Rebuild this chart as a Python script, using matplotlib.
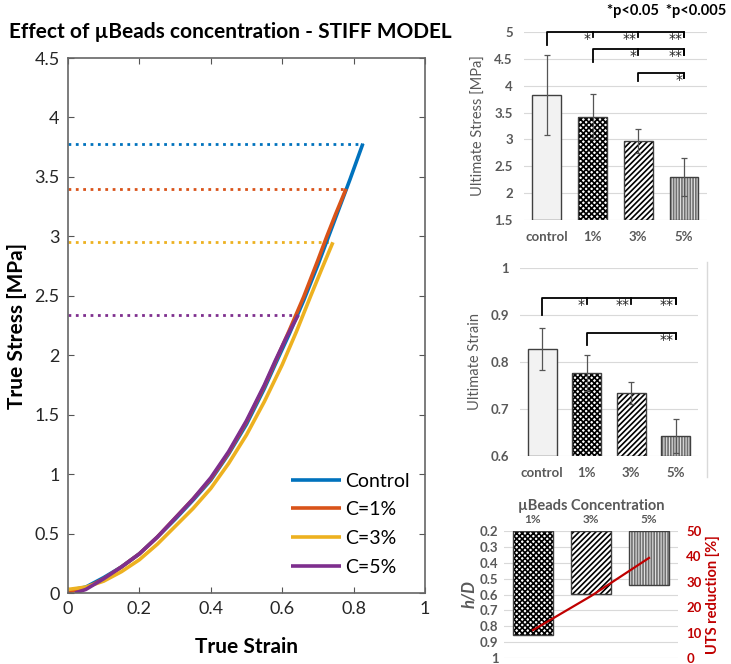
import numpy as np
import matplotlib
matplotlib.use('Agg')
import matplotlib.pyplot as plt
from matplotlib.lines import Line2D

plt.rcParams['font.family'] = ['Lato', 'DejaVu Sans']
plt.rcParams['hatch.linewidth'] = 1.2

# ---- stress-strain curves ----
strain_ctrl = [0.0, 0.05, 0.1, 0.15, 0.2, 0.25, 0.3, 0.35, 0.4, 0.45, 0.5, 0.55,
               0.58, 0.62, 0.66, 0.7, 0.73, 0.76, 0.79, 0.826]
stress_ctrl = [0.02, 0.05, 0.13, 0.22, 0.33, 0.47, 0.62, 0.78, 0.95, 1.17, 1.42, 1.72,
               1.92, 2.18, 2.46, 2.76, 3.0, 3.24, 3.48, 3.78]
strain_c1 = [0.0, 0.05, 0.1, 0.15, 0.2, 0.25, 0.3, 0.35, 0.4, 0.45, 0.5, 0.55,
             0.58, 0.62, 0.66, 0.7, 0.725, 0.75, 0.779]
stress_c1 = [0.01, 0.04, 0.12, 0.22, 0.33, 0.47, 0.63, 0.79, 0.96, 1.18, 1.44, 1.74,
             1.94, 2.21, 2.49, 2.80, 3.0, 3.19, 3.40]
strain_c3 = [0.0, 0.05, 0.1, 0.15, 0.2, 0.25, 0.3, 0.35, 0.4, 0.45, 0.5, 0.55,
             0.6, 0.64, 0.68, 0.71, 0.742]
stress_c3 = [0.03, 0.05, 0.10, 0.18, 0.28, 0.41, 0.56, 0.71, 0.88, 1.09, 1.33, 1.61,
             1.92, 2.2, 2.5, 2.72, 2.95]
strain_c5 = [0.02, 0.05, 0.1, 0.15, 0.2, 0.25, 0.3, 0.35, 0.4, 0.45, 0.5, 0.55,
             0.58, 0.61, 0.645]
stress_c5 = [0.0, 0.03, 0.12, 0.22, 0.33, 0.47, 0.63, 0.79, 0.97, 1.19, 1.45, 1.75,
             1.95, 2.14, 2.34]
curve_labels = ['Control', 'C=1%', 'C=3%', 'C=5%']
curve_colors = ['#0072BD', '#D95319', '#EDB120', '#7E2F8E']

# ---- bar panels ----
groups = ['control', '1%', '3%', '5%']
uts_mean = [3.83, 3.42, 2.97, 2.30]
uts_err = [0.74, 0.42, 0.22, 0.35]
strain_mean = [0.827, 0.777, 0.734, 0.643]
strain_err = [0.045, 0.038, 0.024, 0.036]

conc = ['1%', '3%', '5%']
h_over_d = [0.855, 0.597, 0.54]
uts_reduction = [11.0, 24.4, 39.4]

fig = plt.figure(figsize=(7.31, 6.64), dpi=100)

# ================= main stress-strain plot =================
ax = fig.add_axes([0.0930, 0.1069, 0.4884, 0.8057])
curves = [(strain_ctrl, stress_ctrl), (strain_c1, stress_c1),
          (strain_c3, stress_c3), (strain_c5, stress_c5)]
for (x, y), lab, c in zip(curves, curve_labels, curve_colors):
    ax.plot([0, x[-1]], [y[-1], y[-1]], ':', color=c, lw=2)
for (x, y), lab, c in zip(curves, curve_labels, curve_colors):
    ax.plot(x, y, '-', color=c, lw=2.6, label=lab, solid_capstyle='butt',
            solid_joinstyle='round')

ax.set_xlim(0, 1)
ax.set_ylim(0, 4.5)
ax.set_xticks([0, 0.2, 0.4, 0.6, 0.8, 1])
ax.set_xticklabels(['0', '0.2', '0.4', '0.6', '0.8', '1'])
ax.set_yticks(np.arange(0, 4.51, 0.5))
ax.set_yticklabels(['0', '0.5', '1', '1.5', '2', '2.5', '3', '3.5', '4', '4.5'])
ax.tick_params(direction='in', top=True, right=True, length=4, labelsize=13,
               colors='#555555', labelcolor='#262626', pad=6)
for s in ax.spines.values():
    s.set_color('#666666')
    s.set_linewidth(1.2)
ax.set_xlabel('True Strain', fontsize=15, fontweight='bold', labelpad=14)
ax.set_ylabel('True Stress [MPa]', fontsize=15, fontweight='bold', labelpad=5)
ax.legend(loc='lower left', bbox_to_anchor=(0.575, 0.0), frameon=False,
          fontsize=14, handlelength=2.6, labelspacing=0.6, handletextpad=0.2)
fig.text(0.012, 0.952, 'Effect of \u00b5Beads concentration - STIFF MODEL',
         fontsize=15, fontweight='bold', va='center', ha='left')

# ================= helpers for Excel-style bar panels =================
gray_txt = '#595959'
styles = [dict(fc='#f2f2f2', hatch=None, hc='#f2f2f2'),
          dict(fc='white', hatch='xxxxxx', hc='black'),
          dict(fc='white', hatch='//////', hc='black'),
          dict(fc='#e0e0e0', hatch='||||||', hc='#707070')]


def draw_bars(a, xs, heights, bottom, width, sty):
    for x, h, st in zip(xs, heights, sty):
        a.bar(x, h, width, bottom=bottom, color=st['fc'], edgecolor=st['hc'],
              hatch=st['hatch'], linewidth=0, zorder=2)
        a.bar(x, h, width, bottom=bottom, fill=False, edgecolor='#404040',
              linewidth=1.0, zorder=3)


def bracket(a, x0, x1, y, leg, ticks, stars, tl):
    a.plot([x0, x0, x1, x1], [leg, y, y, y - tl], color='black', lw=1.3,
           clip_on=False, zorder=5)
    for t, s in zip(ticks, stars):
        a.plot([t, t], [y, y - tl], color='black', lw=1.3, clip_on=False, zorder=5)
        a.text(t - 0.04, y - tl * 0.05, s, ha='right', va='top', fontsize=10,
               family='DejaVu Sans', color='#222222', zorder=6)


def excel_style(a):
    for s in a.spines.values():
        s.set_visible(False)
    a.yaxis.grid(True, color='#d9d9d9', lw=0.8, zorder=0)
    a.set_axisbelow(True)
    a.tick_params(length=0, labelsize=9.5, colors=gray_txt, pad=8)
    for t in a.get_xticklabels() + a.get_yticklabels():
        t.set_fontweight('bold')


# ================= ultimate stress =================
ax1 = fig.add_axes([0.7168, 0.6687, 0.2503, 0.2831])
xpos = np.arange(len(groups))
draw_bars(ax1, xpos, [m - 1.5 for m in uts_mean], 1.5, 0.63, styles)
ax1.errorbar(xpos, uts_mean, yerr=uts_err, fmt='none', ecolor='#555555',
             elinewidth=0.9, capsize=2.5, capthick=0.9, zorder=4)
ax1.set_ylim(1.5, 5)
ax1.set_xlim(-0.5, 3.5)
ax1.set_yticks([1.5, 2, 2.5, 3, 3.5, 4, 4.5, 5])
ax1.set_yticklabels(['1.5', '2', '2.5', '3', '3.5', '4', '4.5', '5'])
ax1.set_xticks(xpos)
ax1.set_xticklabels(groups)
excel_style(ax1)
ax1.set_ylabel('Ultimate Stress [MPa]', fontsize=10.5, color=gray_txt, labelpad=6)
bracket(ax1, 0, 3, 5.0, 4.76, [1, 2, 3], ['*', '**', '**'], 0.1)
bracket(ax1, 1, 3, 4.68, 4.44, [2, 3], ['*', '**'], 0.1)
bracket(ax1, 2, 3, 4.24, 4.09, [3], ['*'], 0.1)
fig.text(0.993, 0.984, '*p<0.05  *p<0.005', fontsize=10.5, fontweight='bold',
         ha='right', va='center')

# ================= ultimate strain =================
ax2 = fig.add_axes([0.7114, 0.3133, 0.2435, 0.2831])
draw_bars(ax2, xpos, [m - 0.6 for m in strain_mean], 0.6, 0.66, styles)
ax2.errorbar(xpos, strain_mean, yerr=strain_err, fmt='none', ecolor='#555555',
             elinewidth=0.9, capsize=2.5, capthick=0.9, zorder=4)
ax2.set_ylim(0.6, 1.0)
ax2.set_xlim(-0.5, 3.5)
ax2.set_yticks([0.6, 0.7, 0.8, 0.9, 1.0])
ax2.set_yticklabels(['0.6', '0.7', '0.8', '0.9', '1'])
ax2.set_xticks(xpos)
ax2.set_xticklabels(groups)
excel_style(ax2)
ax2.set_ylabel('Ultimate Strain', fontsize=10.5, color=gray_txt, labelpad=6)
bracket(ax2, 0, 3, 0.936, 0.90, [1, 2, 3], ['*', '**', '**'], 0.013)
bracket(ax2, 1, 3, 0.862, 0.836, [3], ['**'], 0.013)
fig.add_artist(Line2D([707 / 731, 707 / 731], [1 - 262 / 664, 1 - 477 / 664],
                      color='#d9d9d9', lw=1.0))

# ================= h/D vs UTS reduction =================
ax3 = fig.add_axes([0.6895, 0.009, 0.238, 0.1913])
x3 = np.arange(len(conc))
draw_bars(ax3, x3, [v - 0.2 for v in h_over_d], 0.2, 0.68, styles[1:])
ax3.set_ylim(1.0, 0.2)
ax3.set_xlim(-0.5, 2.5)
ax3.set_yticks(np.round(np.arange(0.2, 1.01, 0.1), 1))
ax3.set_yticklabels(['0.2', '0.3', '0.4', '0.5', '0.6', '0.7', '0.8', '0.9', '1'])
ax3.set_xticks(x3)
ax3.set_xticklabels(conc)
ax3.xaxis.tick_top()
ax3.xaxis.set_label_position('top')
excel_style(ax3)
ax3.tick_params(axis='x', labelsize=8.5, pad=4)
ax3.tick_params(axis='y', labelsize=9.5, pad=4)
ax3.set_xlabel('\u00b5Beads Concentration', fontsize=10.5, fontweight='bold',
               color=gray_txt, labelpad=3)
ax3.set_ylabel('h/D', fontsize=12, fontweight='bold', fontstyle='italic',
               color=gray_txt, labelpad=2)

ax4 = ax3.twinx()
ax4.plot(x3, uts_reduction, color='#C00000', lw=1.6, zorder=6)
ax4.set_ylim(0, 50)
ax4.set_yticks([0, 10, 20, 30, 40, 50])
for s in ax4.spines.values():
    s.set_visible(False)
ax4.tick_params(length=0, labelsize=9.5, colors='#C00000', pad=6)
for t in ax4.get_yticklabels():
    t.set_fontweight('bold')
ax4.set_ylabel('UTS reduction [%]', fontsize=10.5, fontweight='bold',
               color='#C00000', labelpad=3)

fig.savefig('out.png', dpi=100)
